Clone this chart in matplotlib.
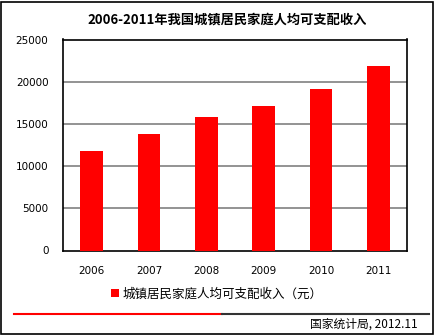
import matplotlib
matplotlib.use("Agg")
import matplotlib.pyplot as plt
from matplotlib.patches import Rectangle, Patch
from matplotlib.lines import Line2D

plt.rcParams['font.family'] = ['Noto Sans CJK SC', 'DejaVu Sans']

# Per-capita disposable income of urban households (yuan)
years = ["2006", "2007", "2008", "2009", "2010", "2011"]
income = [11759, 13786, 15781, 17175, 19109, 21810]
y_ticks = [0, 5000, 10000, 15000, 20000, 25000]

title = "2006-2011年我国城镇居民家庭人均可支配收入"
series_name = "城镇居民家庭人均可支配收入（元）"
source = "国家统计局, 2012.11"

W, H = 435, 335
fig = plt.figure(figsize=(W / 100, H / 100), dpi=100)
fig.patch.set_facecolor("white")

ax = fig.add_axes([63 / W, (H - 250.5) / H, (407 - 63) / W, (250.5 - 39.5) / H])
x = range(len(years))
ax.bar(x, income, width=0.4, color="#ff0000", zorder=3)
ax.set_xlim(-0.5, len(years) - 0.5)
ax.set_ylim(0, 25000)
ax.set_yticks(y_ticks)
ax.set_yticklabels([str(v) for v in y_ticks])
ax.set_xticks(list(x))
ax.set_xticklabels(years)
ax.tick_params(axis="both", length=0, labelsize=7.5, labelfontfamily="DejaVu Sans")
ax.tick_params(axis="y", pad=10.5)
ax.tick_params(axis="x", pad=11)
for v in y_ticks[1:-1]:
    ax.axhline(v, color="#808080", linewidth=1.2, zorder=1)
for s in ax.spines.values():
    s.set_color("black")
    s.set_linewidth(1.2)

fig.text(227 / W, (H - 20) / H, title, ha="center", va="center",
         fontsize=9.5, fontweight="bold")

leg = fig.legend(handles=[Patch(facecolor="#ff0000", edgecolor="none", label=series_name)],
                 loc="center", bbox_to_anchor=(217 / W, (H - 294) / H),
                 frameon=False, fontsize=9, handlelength=0.6, handleheight=0.6,
                 handletextpad=0.3, borderpad=0, borderaxespad=0)

# bottom rule: red then black
fig.add_artist(Line2D([14 / W, 222 / W], [(H - 314) / H] * 2, color="#ff0000", linewidth=1.5))
fig.add_artist(Line2D([222 / W, 429 / W], [(H - 314) / H] * 2, color="#333333", linewidth=1.5))

fig.text(418 / W, (H - 324) / H, source, ha="right", va="center", fontsize=8.5)

# outer frame
fig.add_artist(Rectangle((1.5 / W, 1.5 / H), (W - 3) / W, (H - 3) / H, transform=fig.transFigure,
                         fill=False, edgecolor="black", linewidth=1.2))

fig.savefig("out.png", dpi=100)
